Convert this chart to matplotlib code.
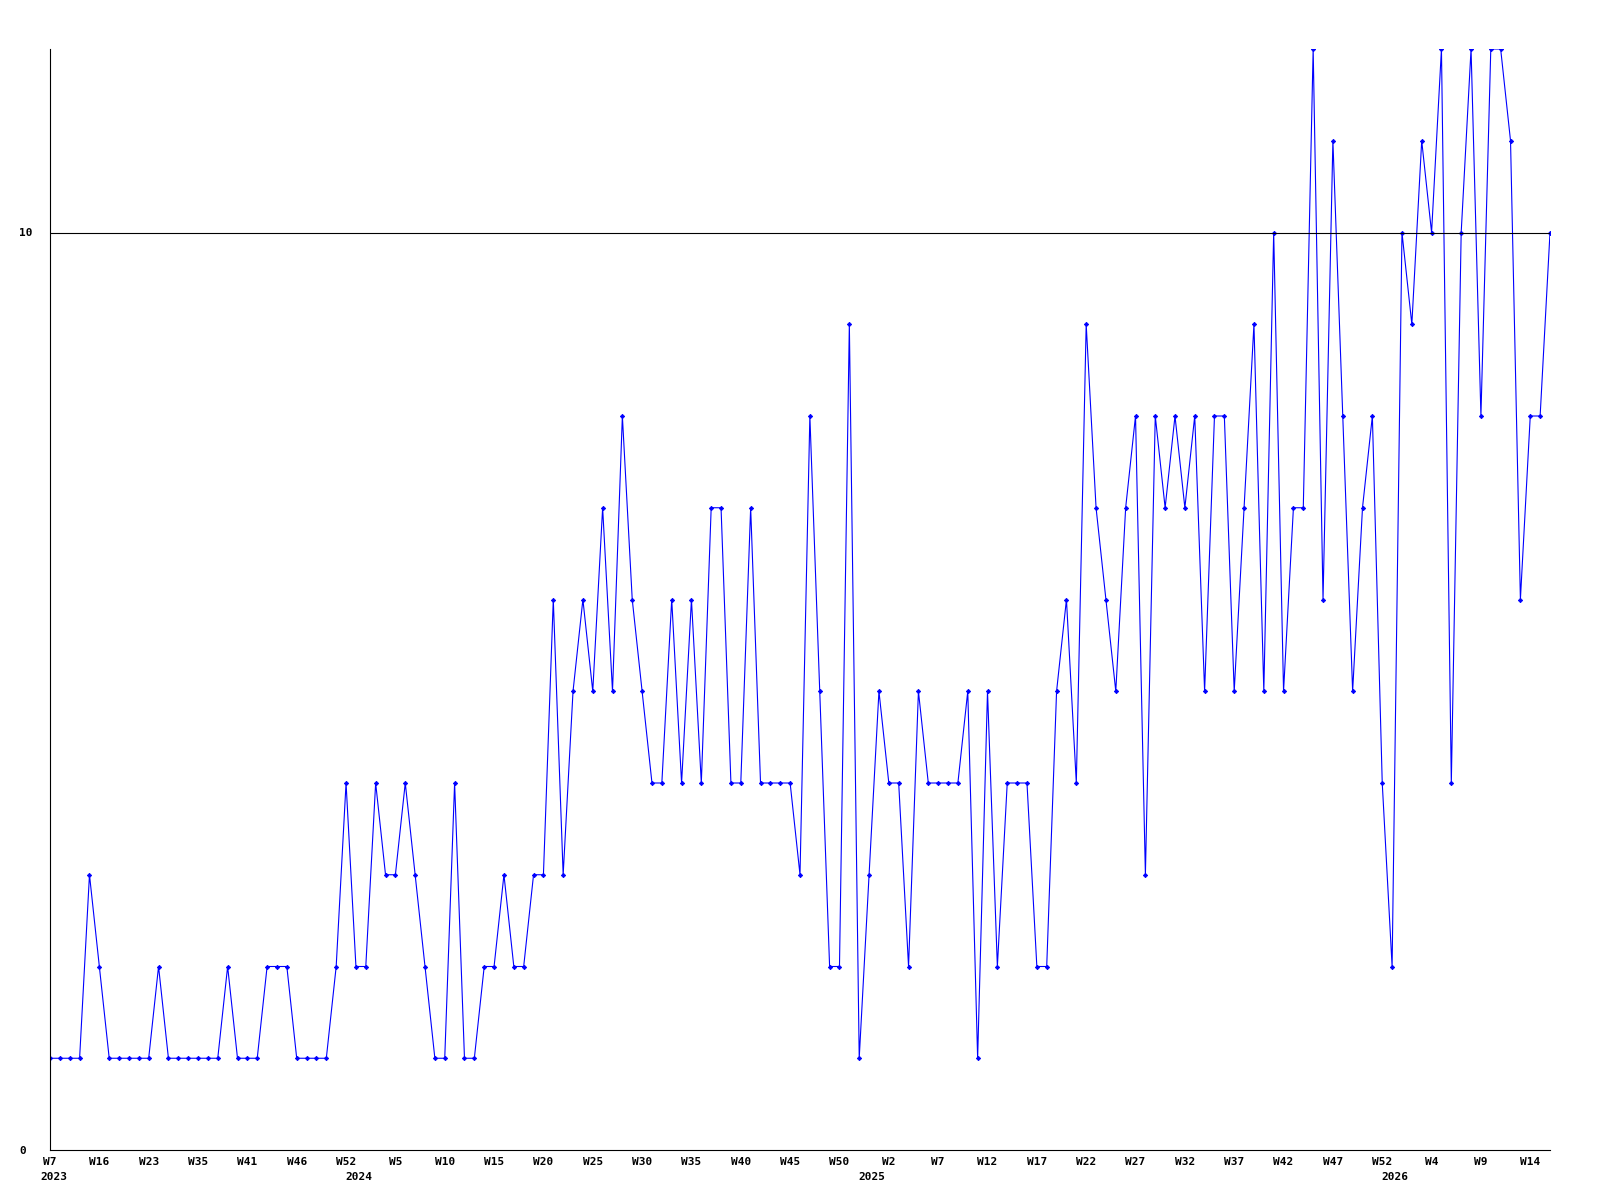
import matplotlib.pyplot as plt
import matplotlib.transforms as transforms

# one value per point, in order
values = [1, 1, 1, 1, 3, 2, 1, 1, 1, 1,
          1, 2, 1, 1, 1, 1, 1, 1, 2, 1,
          1, 1, 2, 2, 2, 1, 1, 1, 1, 2,
          4, 2, 2, 4, 3, 3, 4, 3, 2, 1,
          1, 4, 1, 1, 2, 2, 3, 2, 2, 3,
          3, 6, 3, 5, 6, 5, 7, 5, 8, 6,
          5, 4, 4, 6, 4, 6, 4, 7, 7, 4,
          4, 7, 4, 4, 4, 4, 3, 8, 5, 2,
          2, 9, 1, 3, 5, 4, 4, 2, 5, 4,
          4, 4, 4, 5, 1, 5, 2, 4, 4, 4,
          2, 2, 5, 6, 4, 9, 7, 6, 5, 7,
          8, 3, 8, 7, 8, 7, 8, 5, 8, 8,
          5, 7, 9, 5, 10, 5, 7, 7, 12, 6,
          11, 8, 5, 7, 8, 4, 2, 10, 9, 11,
          10, 12, 4, 10, 12, 8, 12, 12, 11, 6,
          8, 8, 10]

# a week label under every 5th point
week_labels = ["W7", "W16", "W23", "W35", "W41", "W46", "W52", "W5",
               "W10", "W15", "W20", "W25", "W30", "W35", "W40", "W45",
               "W50", "W2", "W7", "W12", "W17", "W22", "W27", "W32",
               "W37", "W42", "W47", "W52", "W4", "W9", "W14"]
year_labels = ["2023", "2024", "2025", "2026"]
year_pos = [0.4, 31.3, 83.3, 136.3]

y_ticks = [0, 10]

font = "DejaVu Sans Mono"

fig = plt.figure(figsize = (16, 12), dpi = 100)
ax = fig.add_axes([50 / 1600, 50 / 1200, 1500 / 1600, 1101 / 1200])

x = list(range(len(values)))
ax.plot(x, values, color = "#0000ff", linewidth = 0.8,
        marker = "D", markersize = 2.2, markeredgewidth = 0.6)

ax.set_xlim(0, len(values) - 1)
ax.set_ylim(0, 12)

for side in ["top", "right"]:
    ax.spines[side].set_visible(False)
for side in ["left", "bottom"]:
    ax.spines[side].set_color("black")
    ax.spines[side].set_linewidth(0.8)

ax.axhline(10, color = "black", linewidth = 0.8)

ax.set_xticks(range(0, len(values), 5))
ax.set_xticklabels(week_labels, fontfamily = font, fontweight = "bold", fontsize = 8)
ax.set_yticks(y_ticks)
ax.set_yticklabels([str(v) for v in y_ticks], fontfamily = font,
                   fontweight = "bold", fontsize = 8, ha = "left")
ax.tick_params(axis = "x", length = 0, pad = 5)
ax.tick_params(axis = "y", length = 0, pad = 22)

trans = transforms.blended_transform_factory(ax.transData, fig.transFigure)
for label, pos in zip(year_labels, year_pos):
    ax.text(pos, 1 - 1177 / 1200, label, transform = trans, ha = "center", va = "center",
            fontfamily = font, fontweight = "bold", fontsize = 8, clip_on = False)

fig.savefig("out.png", dpi = 100)
